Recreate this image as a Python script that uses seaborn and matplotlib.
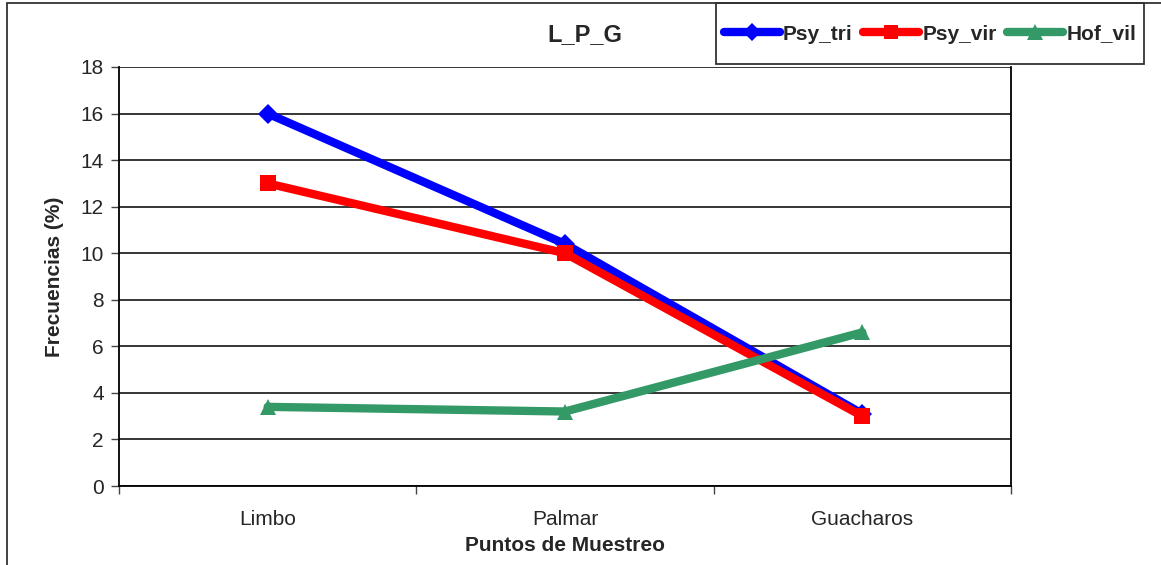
import numpy as np
import pandas as pd
import matplotlib
matplotlib.use("Agg")
import matplotlib.pyplot as plt
from matplotlib.patches import Rectangle
from matplotlib.lines import Line2D
import seaborn as sns

# Sampling sites and species frequencies (%)
sites = ["Limbo", "Palmar", "Guacharos"]
psy_tri = [16.0, 10.4, 3.1]
psy_vir = [13.0, 10.0, 3.0]
hof_vil = [3.4, 3.2, 6.6]
series_names = ["Psy_tri", "Psy_vir", "Hof_vil"]
y_ticks = [0, 2, 4, 6, 8, 10, 12, 14, 16, 18]

colors = {"Psy_tri": "#0000FF", "Psy_vir": "#FF0000", "Hof_vil": "#339966"}
markers = {"Psy_tri": "D", "Psy_vir": "s", "Hof_vil": "^"}
msizes = {"Psy_tri": 10, "Psy_vir": 11, "Hof_vil": 12}

df = pd.DataFrame({
    "Sitio": sites * 3,
    "Frecuencia": psy_tri + psy_vir + hof_vil,
    "Especie": [n for n in series_names for _ in sites],
})

sns.set_theme(style="white")
plt.rcParams["font.family"] = ["Liberation Sans", "DejaVu Sans"]

W, H = 1161, 565
fig = plt.figure(figsize=(W / 100, H / 100), dpi=100)
ax = fig.add_axes([119 / W, 1 - 486 / H, (1011 - 119) / W, (486 - 67) / H])

x_pos = {s: i for i, s in enumerate(sites)}
df["x"] = df["Sitio"].map(x_pos)

for name in series_names:
    sub = df[df["Especie"] == name]
    sns.lineplot(data=sub, x="x", y="Frecuencia", ax=ax, color=colors[name],
                 marker=markers[name], markersize=msizes[name],
                 markeredgewidth=0, linewidth=6, sort=False,
                 legend=False, zorder=3, solid_capstyle="round",
                 solid_joinstyle="round")

ax.set_xlim(-0.5, len(sites) - 0.5)
ax.set_ylim(0, 18)
ax.set_yticks(y_ticks)
ax.set_yticklabels([str(t) for t in y_ticks], fontsize=15)
ax.yaxis.grid(True, color="black", linewidth=1.1)
ax.set_axisbelow(True)

# category labels in the middle, tick marks on the boundaries
ax.set_xticks(np.arange(-0.5, len(sites), 1.0))
ax.set_xticklabels([""] * (len(sites) + 1))
ax.set_xticks(range(len(sites)), minor=True)
ax.set_xticklabels(sites, minor=True, fontsize=15)
ax.tick_params(axis="x", which="minor", length=0, pad=17)
ax.tick_params(axis="x", which="major", direction="out", length=6,
               width=1, color="#444444", bottom=True)
ax.tick_params(axis="y", direction="out", length=6, width=1,
               color="#444444", left=True, pad=5)

for side in ["left", "right", "bottom"]:
    ax.spines[side].set_visible(True)
    ax.spines[side].set_color("black")
    ax.spines[side].set_linewidth(1.3)
ax.spines["top"].set_visible(False)

ax.set_xlabel("Puntos de Muestreo", fontsize=15, fontweight="bold", labelpad=5)
ax.set_ylabel("Frecuencias (%)", fontsize=15, fontweight="bold", labelpad=12)

fig.text(585 / W, 1 - 35 / H, "L_P_G", ha="center", va="center",
         fontsize=17, fontweight="bold")

# legend with its own rectangular frame
handles = [Line2D([0], [0], color=colors[n], marker=markers[n],
                  markersize=msizes[n] - 1, markeredgewidth=0, linewidth=6,
                  solid_capstyle="round")
           for n in series_names]
leg = fig.legend(handles, series_names, loc="center",
                 bbox_to_anchor=(930 / W, 1 - 34 / H), ncol=3,
                 frameon=False, handlelength=2.7,
                 handletextpad=0.15, columnspacing=0.5,
                 prop={"weight": "bold", "size": 15})
fig.patches.append(Rectangle((716 / W, 1 - 64 / H), (1144 - 716) / W, 61 / H,
                             transform=fig.transFigure, fill=False,
                             edgecolor="#333333", linewidth=1.3, zorder=1))

# outer chart border
fig.patches.append(Rectangle((7 / W, -0.05), 1.2, 1 - 3 / H + 0.05,
                             transform=fig.transFigure, fill=False,
                             edgecolor="#333333", linewidth=1.3, zorder=0))

fig.savefig("out.png", dpi=100, facecolor="white")
